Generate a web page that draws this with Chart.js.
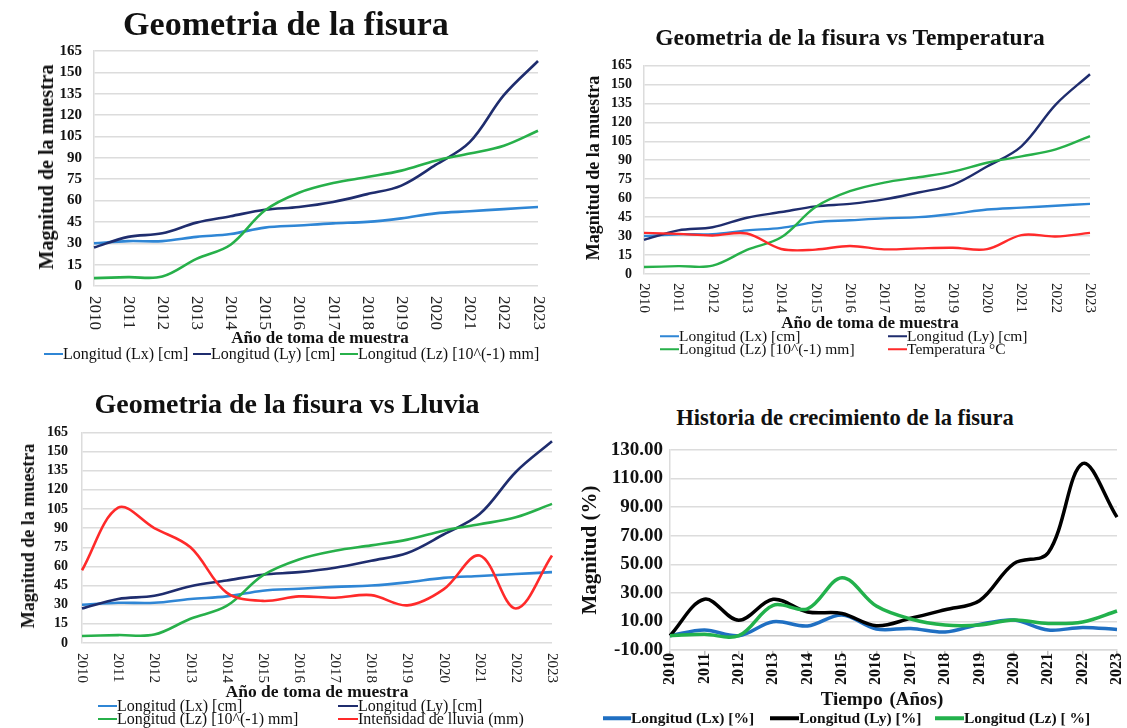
<!DOCTYPE html>
<html>
<head>
<meta charset="utf-8">
<script src="https://cdn.jsdelivr.net/npm/chart.js@4.4.1/dist/chart.umd.min.js"></script>
<style>
  body { margin: 0; background: #fff; }
  #page { position: relative; width: 1127px; height: 728px; overflow: hidden;
          font-family: "Liberation Serif", "Times New Roman", serif; color: #111; }
  canvas { position: absolute; }
  .t { position: absolute; white-space: nowrap; line-height: 1; transform: translate(-50%, -50%); }
  .b { font-weight: bold; }
  .v { transform: translate(-50%, -50%) rotate(-90deg); }
  .lg { position: absolute; white-space: nowrap; line-height: 1; display: flex; align-items: center; transform: translateY(-50%); }
  .lg i { display: inline-block; }
</style>
</head>
<body>
<div id="page">
  <canvas id="c1"></canvas>
  <canvas id="c2"></canvas>
  <canvas id="c3"></canvas>
  <canvas id="c4"></canvas>

  <!-- panel 1 -->
  <div class="t b" style="left:286px;top:24px;font-size:34px">Geometria de la fisura</div>
  <div class="t b v" style="left:46px;top:167px;font-size:20px">Magnitud de la muestra</div>
  <div class="t b" style="left:320px;top:337px;font-size:17px">Año de toma de muestra</div>
  <div class="lg" style="left:44px;top:354px;font-size:16px"><i style="width:19px;height:2.5px;background:#2F86D5"></i>Longitud (Lx) [cm]</div>
  <div class="lg" style="left:193px;top:354px;font-size:16px"><i style="width:18px;height:2.5px;background:#1F2D6E"></i>Longitud (Ly) [cm]</div>
  <div class="lg" style="left:340px;top:354px;font-size:16px"><i style="width:18px;height:2.5px;background:#27B04A"></i>Longitud (Lz) [10^(-1) mm]</div>

  <!-- panel 2 -->
  <div class="t b" style="left:850px;top:38px;font-size:23.5px">Geometria de la fisura vs Temperatura</div>
  <div class="t b v" style="left:593px;top:168px;font-size:18px">Magnitud de la muestra</div>
  <div class="t b" style="left:870px;top:322px;font-size:17px">Año de toma de muestra</div>
  <div class="lg" style="left:660px;top:336px;font-size:15.5px"><i style="width:19px;height:2.5px;background:#2F86D5"></i>Longitud (Lx) [cm]</div>
  <div class="lg" style="left:888px;top:336px;font-size:15.5px"><i style="width:19px;height:2.5px;background:#1F2D6E"></i>Longitud (Ly) [cm]</div>
  <div class="lg" style="left:660px;top:349px;font-size:15.5px"><i style="width:19px;height:2.5px;background:#27B04A"></i>Longitud (Lz) [10^(-1) mm]</div>
  <div class="lg" style="left:888px;top:349px;font-size:15.5px"><i style="width:19px;height:2.5px;background:#FF2A2A"></i>Temperatura °C</div>

  <!-- panel 3 -->
  <div class="t b" style="left:287px;top:404px;font-size:28px">Geometria de la fisura vs Lluvia</div>
  <div class="t b v" style="left:28px;top:536px;font-size:18px">Magnitud de la muestra</div>
  <div class="t b" style="left:317px;top:692px;font-size:17.5px">Año de toma de muestra</div>
  <div class="lg" style="left:98px;top:706px;font-size:16px"><i style="width:19px;height:2.5px;background:#2F86D5"></i>Longitud (Lx) [cm]</div>
  <div class="lg" style="left:338px;top:706px;font-size:16px"><i style="width:20px;height:2.5px;background:#1F2D6E"></i>Longitud (Ly) [cm]</div>
  <div class="lg" style="left:98px;top:719px;font-size:16px"><i style="width:19px;height:2.5px;background:#27B04A"></i>Longitud (Lz) [10^(-1) mm]</div>
  <div class="lg" style="left:338px;top:719px;font-size:16px"><i style="width:20px;height:2.5px;background:#FF2A2A"></i>Intensidad de lluvia (mm)</div>

  <!-- panel 4 -->
  <div class="t b" style="left:845px;top:418px;font-size:22.5px">Historia de crecimiento de la fisura</div>
  <div class="t b v" style="left:589px;top:550px;font-size:21px">Magnitud (%)</div>
  <div class="t b" style="left:882px;top:698px;font-size:19px;word-spacing:2px">Tiempo (Años)</div>
  <div class="lg b" style="left:603px;top:718px;font-size:15.5px"><i style="width:28px;height:4px;background:#1F6FC2"></i>Longitud (Lx) [%]</div>
  <div class="lg b" style="left:770px;top:718px;font-size:15.5px"><i style="width:29px;height:4px;background:#000"></i>Longitud (Ly) [%]</div>
  <div class="lg b" style="left:935px;top:718px;font-size:15.5px"><i style="width:29px;height:4px;background:#22B14C"></i>Longitud (Lz) [ %]</div>
</div>

<script>
// years sampled
const years = ['2010','2011','2012','2013','2014','2015','2016','2017','2018','2019','2020','2021','2022','2023'];

// crack geometry
const lx = [30, 31.5, 31.5, 34.5, 36.5, 41, 42.5, 44, 45, 47.5, 51, 52.5, 54, 55.5];
const ly = [27, 34.5, 37, 44.5, 49, 53.5, 55.5, 59, 64.5, 70.5, 85, 101, 134, 158];
const lz = [5.5, 6.2, 6.6, 19, 29, 53, 65.5, 72.3, 76.5, 81, 88, 93, 98.5, 109];

// temperature and rain
const temperatura = [32.5, 31.7, 30.5, 32, 19.8, 19.3, 22.2, 19.5, 20.3, 20.8, 19.7, 30.8, 29.7, 32.5];
const lluvia = [57, 106, 90, 75, 39.5, 33, 36.5, 35.5, 37.5, 29.5, 42, 68.5, 27, 68.5];

// growth history (%)
const pctLx = [0, 4, 0, 9.8, 6.8, 14.5, 4.7, 5.1, 2.6, 7.9, 11, 4, 5.8, 4.4];
const pctLy = [0, 25.5, 10.8, 25.5, 16.6, 15.6, 7, 12.2, 18.2, 24.5, 50.5, 58, 120.5, 83];
const pctLz = [0, 1, 0, 21.3, 18.8, 40.6, 20.8, 11.7, 7.5, 7.5, 11, 8.6, 9.6, 17.3];

const SERIF = '"Liberation Serif", "Times New Roman", serif';

// year labels drawn vertically; dir 1 reads top to bottom, dir -1 bottom to top
const vLabels = {
  id: 'vLabels',
  afterDraw(chart, args, opts) {
    const x = chart.scales.x, ctx = chart.ctx;
    ctx.save();
    ctx.font = opts.font;
    ctx.fillStyle = opts.color;
    ctx.textAlign = opts.dir > 0 ? 'left' : 'right';
    ctx.textBaseline = 'middle';
    chart.data.labels.forEach((lab, i) => {
      ctx.save();
      ctx.translate(x.getPixelForValue(i), chart.chartArea.bottom + opts.gap);
      ctx.rotate(opts.dir * Math.PI / 2);
      ctx.fillText(lab, 0, 0);
      ctx.restore();
    });
    ctx.restore();
  }
};

// line at value 0 for the growth chart
const zeroLine = {
  id: 'zeroLine',
  beforeDatasetsDraw(chart, args, opts) {
    const y = chart.scales.y, a = chart.chartArea, ctx = chart.ctx;
    const py = y.getPixelForValue(0);
    ctx.save();
    ctx.strokeStyle = opts.color;
    ctx.lineWidth = 1.5;
    ctx.beginPath();
    ctx.moveTo(a.left, py);
    ctx.lineTo(a.right, py);
    ctx.stroke();
    ctx.restore();
  }
};

function series(list, width) {
  return list.map((s, i) => ({
    label: s[0], data: s[1], borderColor: s[2],
    borderWidth: width, pointRadius: 0, tension: 0.35, fill: false,
    order: list.length - i
  }));
}

function makeChart(id, box, plot, datasets, cfg) {
  const cv = document.getElementById(id);
  cv.width = box.w; cv.height = box.h;
  cv.style.left = box.x + 'px'; cv.style.top = box.y + 'px';
  return new Chart(cv, {
    type: 'line',
    data: { labels: years, datasets },
    options: {
      responsive: false,
      animation: false,
      layout: { padding: { left: 0, bottom: 0, top: plot.top - box.y, right: box.x + box.w - plot.right } },
      plugins: {
        legend: { display: false },
        tooltip: { enabled: false },
        vLabels: { font: cfg.xFont, gap: cfg.gap, dir: cfg.dir, color: cfg.dir > 0 ? '#222' : '#111' },
        zeroLine: cfg.zero ? { color: '#c8c8c8' } : false
      },
      scales: {
        x: {
          ticks: { display: false },
          grid: cfg.marks
            ? { display: true, drawOnChartArea: false, tickLength: 5, color: '#bfbfbf', lineWidth: 1.5 }
            : { display: false },
          border: { display: !!cfg.marks, color: '#d9d9d9', width: 1.5 },
          afterFit(s) { s.height = box.y + box.h - plot.bottom; }
        },
        y: {
          min: cfg.min, max: cfg.max,
          ticks: { stepSize: cfg.step, padding: cfg.yPad, color: '#111', autoSkip: false,
                   font: { family: SERIF, size: cfg.ySize, weight: 'bold' },
                   callback: cfg.fmt || (v => v) },
          grid: { color: '#dcdcdc', lineWidth: 1.5, drawTicks: false },
          border: { display: true, color: '#dcdcdc', width: 1.5 },
          afterFit(s) { s.width = plot.left - box.x; }
        }
      }
    },
    plugins: [vLabels, zeroLine]
  });
}

const geom = [
  ['Longitud (Lx) [cm]', lx, '#2F86D5'],
  ['Longitud (Ly) [cm]', ly, '#1F2D6E'],
  ['Longitud (Lz) [10^(-1) mm]', lz, '#27B04A']
];

makeChart('c1', { x: 0, y: 30, w: 560, h: 310 }, { left: 94, top: 49, right: 538, bottom: 286 },
  series(geom, 2.6),
  { dir: 1, xFont: '17px ' + SERIF, gap: 10, min: 0, max: 165, step: 15, ySize: 15, yPad: 12 });

makeChart('c2', { x: 570, y: 45, w: 557, h: 285 }, { left: 644, top: 62, right: 1090, bottom: 274 },
  series(geom.concat([['Temperatura °C', temperatura, '#FF2A2A']]), 2.4),
  { dir: 1, xFont: '15px ' + SERIF, gap: 9, min: 0, max: 165, step: 15, ySize: 14, yPad: 12 });

makeChart('c3', { x: 0, y: 410, w: 570, h: 280 }, { left: 82, top: 428, right: 552, bottom: 643 },
  series(geom.concat([['Intensidad de lluvia (mm)', lluvia, '#FF2A2A']]), 2.6),
  { dir: 1, xFont: '15px ' + SERIF, gap: 10, min: 0, max: 165, step: 15, ySize: 14, yPad: 14 });

makeChart('c4', { x: 570, y: 430, w: 557, h: 262 }, { left: 670, top: 450, right: 1117, bottom: 650 },
  series([
    ['Longitud (Lx) [%]', pctLx, '#1F6FC2'],
    ['Longitud (Ly) [%]', pctLy, '#000000'],
    ['Longitud (Lz) [ %]', pctLz, '#22B14C']
  ], 3.5),
  { dir: -1, marks: true, zero: true, xFont: 'bold 16px ' + SERIF, gap: 3,
    min: -10, max: 130, step: 20, ySize: 19, yPad: 7, fmt: v => v.toFixed(2) });
</script>
</body>
</html>
